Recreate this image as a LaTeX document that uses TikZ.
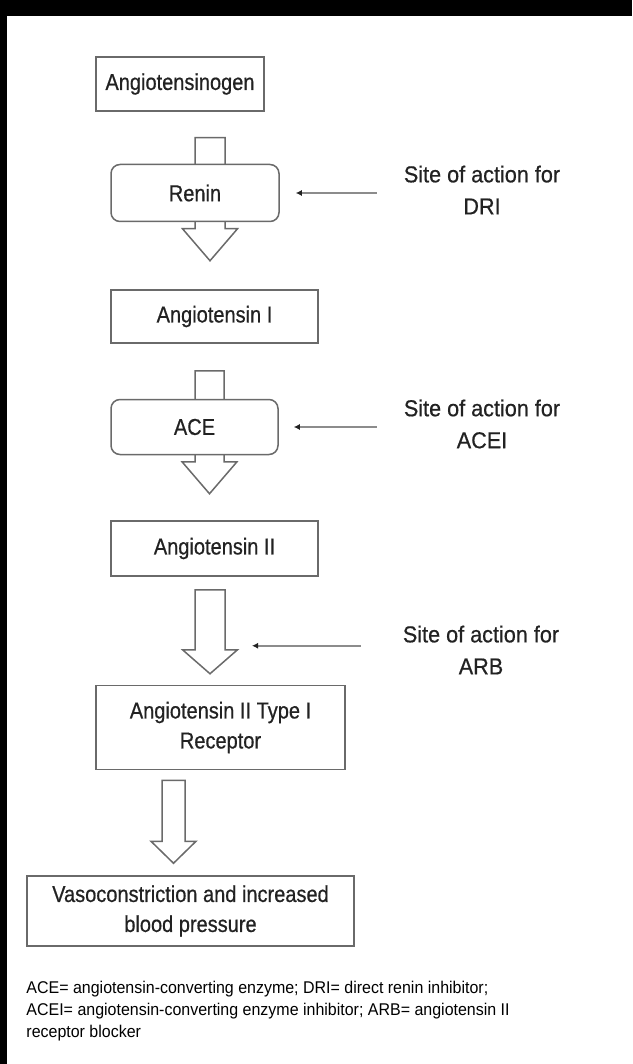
\documentclass[tikz,border=0pt]{standalone}
\usepackage{fontspec}
\setmainfont{Liberation Sans}
\newfontfamily\boxfont[FakeStretch=0.87, FakeBold=0.6]{Liberation Sans}
\newfontfamily\sidefont[FakeStretch=0.94, FakeBold=0.6]{Liberation Sans}
\newfontfamily\notefont[FakeStretch=0.94]{Liberation Sans}
\usetikzlibrary{positioning, calc, arrows.meta}
\definecolor{boxgray}{HTML}{6A6A6A}
\definecolor{linegray}{HTML}{8C8C8C}
\definecolor{textgray}{HTML}{222222}
\tikzstyle{Box} = [
draw=boxgray, line width=1.5pt, fill=white,
align=center, inner sep=0pt, text=textgray,
font=\boxfont\fontsize{23}{30}\selectfont]
\tikzstyle{Enzyme} = [Box, rounded corners=9pt]
\tikzstyle{Side} = [
align=center, inner sep=0pt, text=textgray,
font=\sidefont\fontsize{23}{32}\selectfont]
\tikzstyle{Note} = [
align=left, inner sep=0pt, text=black,
font=\notefont\fontsize{17}{22}\selectfont]
\tikzstyle{Pointer} = [
draw=linegray, line width=2pt,
-{Latex[length=6pt, width=6pt, color=textgray]}]
\tikzstyle{Hollow} = [draw=boxgray, line width=1.5pt, fill=white]
\tikzset{
pics/blockarrow/.style n args={4}{code={
\draw[Hollow] (-#3,0) -- (-#3,#1) -- (-#4,#1) -- (0,#1+#2)
    -- (#4,#1) -- (#3,#1) -- (#3,0) -- cycle;}}}

\begin{document}
\begin{tikzpicture}[x=1pt, y=-1pt]
    \useasboundingbox (0,0) rectangle (632,1064);
    \fill[black] (0,0) rectangle (632,16);
    \fill[black] (0,0) rectangle (7,1064);
    \node [Box, minimum width=168pt, minimum height=54pt] (1) at (180,84) {Angiotensinogen};
    \coordinate (12) at ($(1.south)+(30,26)$);
    \pic at (12) {blockarrow={91}{32}{15}{27.5}};
    \node [Enzyme, minimum width=168pt, minimum height=57pt, below=52pt of 1, xshift=15pt] (2) {Renin};
    \node [Box, minimum width=207pt, minimum height=53pt, below=67pt of 2, xshift=19.5pt] (3) {Angiotensin I};
    \coordinate (13) at ($(3.south)+(-5,27)$);
    \pic at (13) {blockarrow={91}{32}{14.5}{27.5}};
    \node [Enzyme, minimum width=167pt, minimum height=55pt, below=55pt of 3, xshift=-20pt] (4) {ACE};
    \node [Box, minimum width=207pt, minimum height=55pt, below=65pt of 4, xshift=20pt] (5) {Angiotensin II};
    \coordinate (14) at ($(5.south)+(-4.5,13)$);
    \pic at (14) {blockarrow={60}{24}{15}{27.5}};
    \coordinate (16) at ($(14)+(15,56)$);
    \node [Box, minimum width=249pt, minimum height=84pt, below=108pt of 5, xshift=6pt] (6) {Angiotensin II Type I\\Receptor};
    \coordinate (15) at ($(6.south)+(-47,10)$);
    \pic at (15) {blockarrow={61}{22}{11.5}{22.5}};
    \node [Box, minimum width=327pt, minimum height=70pt, below=105pt of 6, xshift=-30pt] (7) {Vasoconstriction and increased\\blood pressure};
    \node [Side] (8) at (482,190) {Site of action for\\DRI};
    \node [Side] (9) at (482,424) {Site of action for\\ACEI};
    \node [Side] (10) at (481,650) {Site of action for\\ARB};
    \draw[Pointer, shorten <=27pt, shorten >=16pt] (8.west |- 2.east) -- (2.east);
    \draw[Pointer, shorten <=27pt, shorten >=15pt] (9.west |- 4.east) -- (4.east);
    \draw[Pointer, shorten <=42pt, shorten >=27pt] (10.west |- 16) -- (16);
    \node [Note, below=34pt of 7.south west, anchor=north west] (11) {ACE= angiotensin-converting enzyme; DRI= direct renin inhibitor;\\ACEI= angiotensin-converting enzyme inhibitor; ARB= angiotensin II\\receptor blocker};
\end{tikzpicture}
\end{document}
